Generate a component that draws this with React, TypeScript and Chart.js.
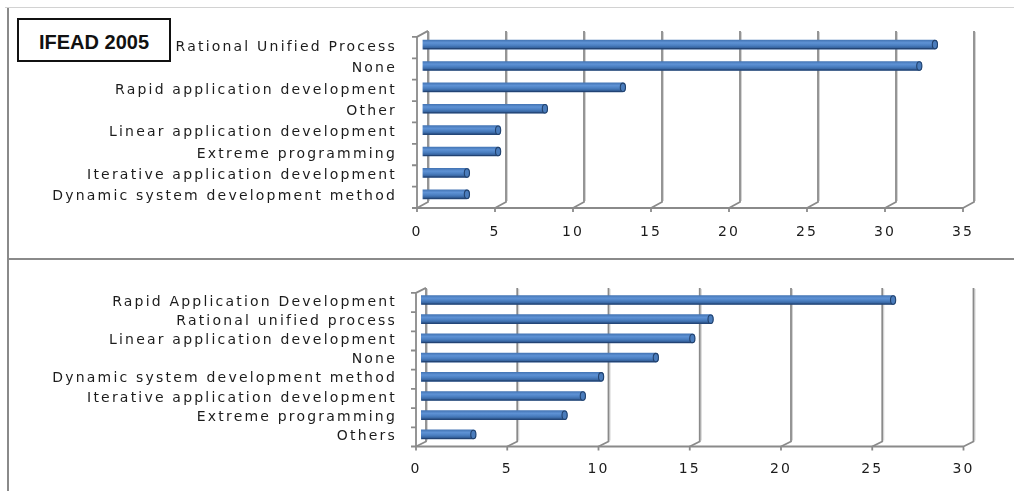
import React, { useEffect, useRef } from 'react';
import { Chart, registerables } from 'chart.js';

Chart.register(...registerables);

// ---------- data ----------
const panelTitle = 'IFEAD 2005';

const topCategories = [
  'Rational Unified Process',
  'None',
  'Rapid application development',
  'Other',
  'Linear application development',
  'Extreme programming',
  'Iterative application development',
  'Dynamic system development method',
];
const topValues = [33, 32, 13, 8, 5, 5, 3, 3];
const topAxisMax = 35;

const bottomCategories = [
  'Rapid Application Development',
  'Rational unified process',
  'Linear application development',
  'None',
  'Dynamic system development method',
  'Iterative application development',
  'Extreme programming',
  'Others',
];
const bottomValues = [26, 16, 15, 13, 10, 9, 8, 3];
const bottomAxisMax = 30;

const axisStep = 5;

// ---------- styling ----------
const FONT = "'DejaVu Sans', sans-serif";
const TEXT = '#1c1c1c';
const GRID = '#8a8a8a';

type Geo = {
  y: number; h: number; left: number; right: number; top: number; bottom: number;
  dx: number; dy: number; xPad: number; yPad: number; yLabelOffset: number;
};

const topGeo: Geo = { y: 0, h: 258, left: 422.5, right: 968.5, top: 31, bottom: 205, dx: 5.5, dy: 3, xPad: 19, yPad: 25.5, yLabelOffset: 2.5 };
const bottomGeo: Geo = { y: 258, h: 233, left: 421, right: 968.5, top: 24.5, bottom: 186, dx: 5, dy: 2.5, xPad: 17, yPad: 24, yLabelOffset: 2 };

const spacingPlugin = {
  id: 'spacing',
  beforeDraw(chart: any) { (chart.ctx as any).letterSpacing = '2.2px'; },
  afterDraw(chart: any) { (chart.ctx as any).letterSpacing = '0px'; },
};

const frame3dPlugin = {
  id: 'frame3d',
  beforeDatasetsDraw(chart: any, _args: any, opts: any) {
    const { ctx, chartArea: a, scales } = chart;
    const xs = scales.x;
    const ys = scales.y;
    const dx = opts.dx;
    const dy = opts.dy;
    ctx.save();
    ctx.lineCap = 'butt';
    for (const t of xs.ticks) {
      const px = xs.getPixelForValue(t.value);
      ctx.strokeStyle = '#d4d4d4';
      ctx.lineWidth = 1;
      ctx.beginPath();
      ctx.moveTo(px + dx + 1.5, a.top - dy + 1);
      ctx.lineTo(px + dx + 1.5, a.bottom - dy - 1);
      ctx.stroke();
      ctx.strokeStyle = GRID;
      ctx.lineWidth = 1.8;
      ctx.beginPath();
      ctx.moveTo(px + dx, a.top - dy);
      ctx.lineTo(px + dx, a.bottom - dy);
      ctx.lineTo(px - dx, a.bottom + dy);
      ctx.lineTo(px - dx, a.bottom + dy + 4);
      ctx.stroke();
    }
    ctx.strokeStyle = GRID;
    ctx.lineWidth = 1.8;
    const x0 = xs.getPixelForValue(xs.min) - dx;
    const x1 = xs.getPixelForValue(xs.max) - dx;
    ctx.beginPath();
    ctx.moveTo(x0, a.bottom + dy);
    ctx.lineTo(x1, a.bottom + dy);
    ctx.stroke();
    ctx.beginPath();
    ctx.moveTo(x0 + 2 * dx, a.top - dy);
    ctx.lineTo(x0, a.top + dy);
    ctx.lineTo(x0, a.bottom + dy);
    ctx.stroke();
    ctx.beginPath();
    for (let i = 0; i <= ys.ticks.length; i++) {
      const yy = ys.getPixelForValue(i - 0.5) + dy;
      ctx.moveTo(x0 - 5, yy);
      ctx.lineTo(x0, yy);
    }
    ctx.stroke();
    ctx.restore();
  },
};

const capPlugin = {
  id: 'caps',
  afterDatasetsDraw(chart: any) {
    const { ctx } = chart;
    const meta = chart.getDatasetMeta(0);
    ctx.save();
    for (const el of meta.data) {
      const { x, y, height } = el.getProps(['x', 'y', 'height'], true);
      const r = height / 2;
      ctx.strokeStyle = 'rgba(25,50,90,0.6)';
      ctx.lineWidth = 1;
      ctx.beginPath();
      ctx.moveTo(el.base + 1, y + r - 0.5);
      ctx.lineTo(x - 2, y + r - 0.5);
      ctx.stroke();
      ctx.beginPath();
      ctx.ellipse(x - 2.4, y, 2.6, r - 0.3, 0, 0, Math.PI * 2);
      ctx.fillStyle = '#4a7cbc';
      ctx.fill();
      ctx.strokeStyle = '#22426d';
      ctx.lineWidth = 1.1;
      ctx.stroke();
    }
    ctx.restore();
  },
};

function barFill(c: any) {
  const ch = c.chart;
  const ys = ch.scales && ch.scales.y;
  if (c.type !== 'data' || !ys || !ch.chartArea) return '#4f81bd';
  const cy = ys.getPixelForValue(c.dataIndex);
  const g = ch.ctx.createLinearGradient(0, cy - 4.5, 0, cy + 4.5);
  g.addColorStop(0, '#4576b6');
  g.addColorStop(0.3, '#5e92d5');
  g.addColorStop(0.6, '#4a7ec0');
  g.addColorStop(1, '#2b548c');
  return g;
}

function makeConfig(labels: string[], values: number[], max: number, geo: Geo): any {
  return {
    type: 'bar',
    data: {
      labels,
      datasets: [
        {
          data: values,
          backgroundColor: barFill,
          borderWidth: 0,
          borderRadius: 3,
          borderSkipped: 'start',
          barThickness: 9,
        },
      ],
    },
    options: {
      indexAxis: 'y',
      responsive: false,
      animation: false,
      devicePixelRatio: 1,
      layout: { padding: { left: 0, top: geo.top, right: 1014 - geo.right, bottom: 0 } },
      plugins: {
        legend: { display: false },
        tooltip: { enabled: false },
        frame3d: { dx: geo.dx, dy: geo.dy },
      },
      scales: {
        x: {
          type: 'linear',
          min: 0,
          max,
          grid: { display: false, drawTicks: false },
          border: { display: false },
          ticks: {
            stepSize: axisStep,
            autoSkip: false,
            maxRotation: 0,
            padding: geo.xPad,
            labelOffset: -geo.dx,
            color: TEXT,
            font: { family: FONT, size: 14 },
          },
          afterFit: (s: any) => { s.height = geo.h - geo.bottom; },
        },
        y: {
          type: 'category',
          grid: { display: false, drawTicks: false },
          border: { display: false },
          ticks: {
            autoSkip: false,
            padding: geo.yPad,
            labelOffset: geo.yLabelOffset,
            color: TEXT,
            font: { family: FONT, size: 14 },
          },
          afterFit: (s: any) => { s.width = geo.left; },
        },
      },
    },
    plugins: [spacingPlugin, frame3dPlugin, capPlugin],
  };
}

function BarPanel({ labels, values, max, geo }: { labels: string[]; values: number[]; max: number; geo: Geo }) {
  const ref = useRef<HTMLCanvasElement>(null);
  useEffect(() => {
    const chart = new Chart(ref.current as HTMLCanvasElement, makeConfig(labels, values, max, geo));
    return () => chart.destroy();
  }, []);
  return (
    <canvas
      ref={ref}
      width={1014}
      height={geo.h}
      style={{ position: 'absolute', left: 0, top: geo.y, width: 1014, height: geo.h, display: 'block' }}
    />
  );
}

export default function App() {
  return (
    <div style={{ position: 'absolute', left: 0, top: 0, width: 1014, height: 491, background: '#fff', overflow: 'hidden' }}>
      <BarPanel labels={topCategories} values={topValues} max={topAxisMax} geo={topGeo} />
      <BarPanel labels={bottomCategories} values={bottomValues} max={bottomAxisMax} geo={bottomGeo} />
      <div style={{ position: 'absolute', left: 5, top: 7, width: 1009, height: 1, background: '#d2d2d2' }} />
      <div style={{ position: 'absolute', left: 7, top: 8, width: 2, height: 483, background: '#8a8a8a' }} />
      <div style={{ position: 'absolute', left: 7, top: 258, width: 1007, height: 2, background: '#8a8a8a' }} />
      <div
        style={{
          position: 'absolute', left: 17, top: 18, width: 150, height: 36,
          border: '2px solid #111', background: '#fff',
          display: 'flex', alignItems: 'center', justifyContent: 'center',
          paddingTop: 4, boxSizing: 'content-box',
          fontFamily: "'Liberation Sans', Arial, sans-serif", fontWeight: 700, fontSize: 20, color: '#111',
        }}
      >
        {panelTitle}
      </div>
    </div>
  );
}
